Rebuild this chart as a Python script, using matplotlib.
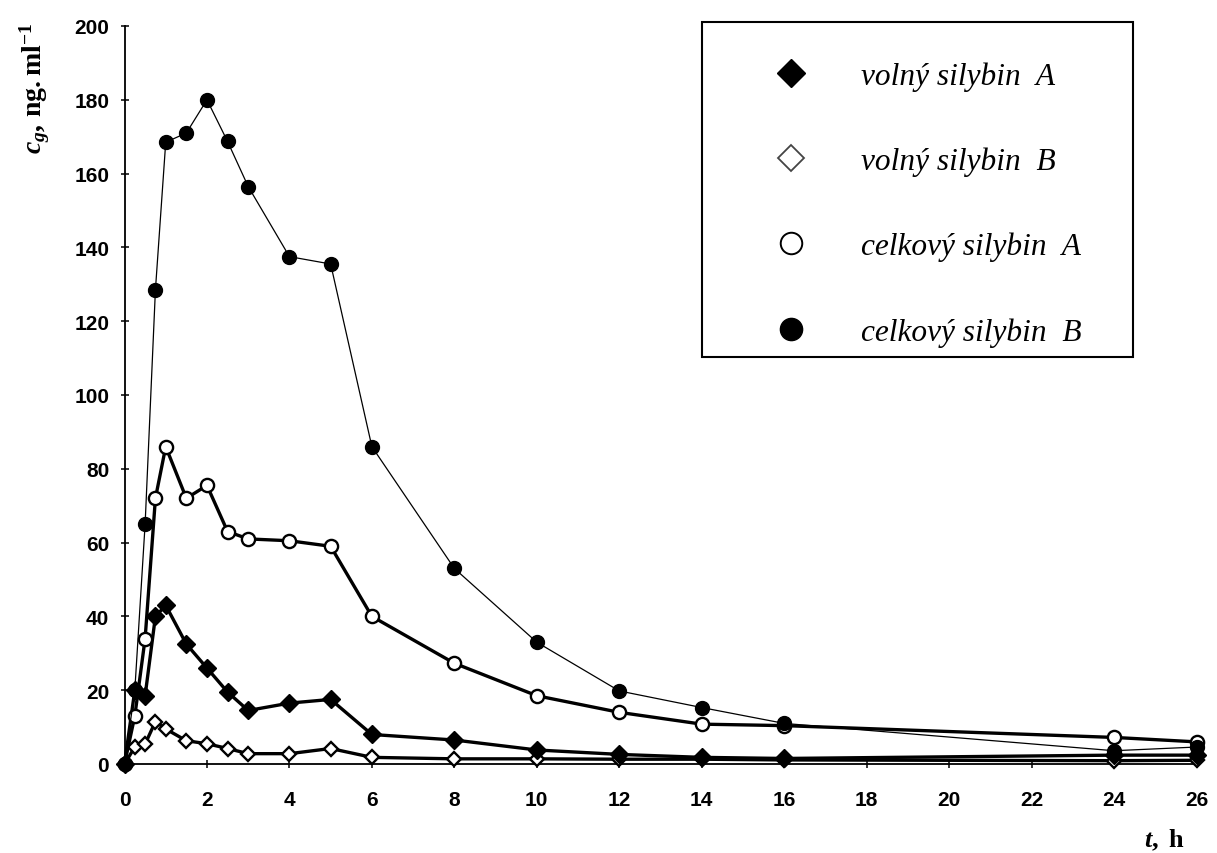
import matplotlib
matplotlib.use("Agg")
import matplotlib.pyplot as plt
from matplotlib.lines import Line2D
from matplotlib.patches import Rectangle

# sampling times [h] and plasma concentrations [ng/ml]
t_h = [0, 0.25, 0.5, 0.75, 1, 1.5, 2, 2.5, 3, 4, 5, 6, 8, 10, 12, 14, 16, 24, 26]
volny_a = [0, 20, 18.5, 40, 43, 32.5, 26, 19.5, 14.5, 16.5, 17.5, 8, 6.5, 3.8, 2.6, 1.8, 1.5, 2.4, 2.4]
volny_b = [0, 4.6, 5.4, 11.5, 9.5, 6.3, 5.5, 4.2, 2.8, 2.8, 4.2, 1.8, 1.4, 1.4, 1.3, 1.3, 1.1, 0.9, 1.0]
celkovy_a = [0, 13, 34, 72, 86, 72, 75.5, 63, 61, 60.5, 59, 40, 27.3, 18.5, 14, 10.8, 10.4, 7.2, 6]
celkovy_b = [0, 20, 65, 128.5, 168.5, 171, 180, 168.7, 156.5, 137.5, 135.5, 86, 53, 33, 19.8, 15.3, 11, 3.6, 4.6]

x_ticks = list(range(0, 27, 2))
y_ticks = list(range(0, 201, 20))

legend_labels = ["volný silybin  A", "volný silybin  B",
                 "celkový silybin  A", "celkový silybin  B"]

plt.rcParams["mathtext.fontset"] = "custom"
plt.rcParams["mathtext.rm"] = "Liberation Serif:bold"
plt.rcParams["mathtext.it"] = "Liberation Serif:bold:italic"
plt.rcParams["mathtext.bf"] = "Liberation Serif:bold"

fig = plt.figure(figsize=(12.17, 8.54), dpi=100)
ax = fig.add_axes([124.5 / 1217, 1 - 765 / 854, (1196.5 - 124.5) / 1217, (765 - 27) / 854])

thick = 2.4
ax.plot(t_h, volny_b, color="black", lw=thick, marker="D", ms=7.5,
        mfc="white", mec="black", mew=1.7, clip_on=False, zorder=3)
ax.plot(t_h, volny_a, color="black", lw=thick, marker="D", ms=9,
        mfc="black", mec="black", clip_on=False, zorder=4)
ax.plot(t_h, celkovy_a, color="black", lw=thick, marker="o", ms=9.5,
        mfc="white", mec="black", mew=1.7, clip_on=False, zorder=5)
ax.plot(t_h, celkovy_b, color="black", lw=0.9, marker="o", ms=10,
        mfc="black", mec="black", clip_on=False, zorder=6)

ax.set_xlim(0, 26)
ax.set_ylim(0, 200)
ax.set_xticks(x_ticks)
ax.set_yticks(y_ticks)
for s in ("top", "right"):
    ax.spines[s].set_visible(False)
for s in ("left", "bottom"):
    ax.spines[s].set_linewidth(1.3)
ax.tick_params(axis="both", direction="inout", length=6, width=1.1)
ax.tick_params(axis="y", pad=8)
ax.tick_params(axis="x", pad=16)
for lab in ax.get_xticklabels() + ax.get_yticklabels():
    lab.set_fontfamily("Liberation Sans")
    lab.set_fontweight("bold")
    lab.set_fontsize(15)

fig.text(35 / 1217, 1 - 89 / 854, r"$c_{g}\mathrm{,\,ng.ml}^{\mathrm{-1}}$",
         rotation=90, ha="center", va="center", fontsize=20)
fig.text(1185 / 1217, (854 - 847) / 854, r"$t\mathrm{,\ h}$",
         ha="right", va="baseline", fontsize=19)

handles = [
    Line2D([], [], ls="none", marker="D", ms=14, mfc="black", mec="black"),
    Line2D([], [], ls="none", marker="D", ms=13, mfc="white", mec="#444444", mew=1.3),
    Line2D([], [], ls="none", marker="o", ms=15.5, mfc="white", mec="black", mew=1.4),
    Line2D([], [], ls="none", marker="o", ms=16, mfc="black", mec="black"),
]
leg = fig.legend(handles, legend_labels, loc="upper left",
                 bbox_to_anchor=(759.4 / 1217, 1 - 62 / 854),
                 frameon=False, borderpad=0, borderaxespad=0,
                 handlelength=2, handletextpad=1.25, labelspacing=1.78,
                 prop={"family": "Liberation Serif", "style": "italic", "size": 22.6})
fig.patches.append(Rectangle((702 / 1217, 1 - 358 / 854), (1133 - 702) / 1217,
                             (358 - 23) / 854, transform=fig.transFigure,
                             fill=False, lw=1.5, ec="black"))

fig.savefig("out.png", dpi=100)
